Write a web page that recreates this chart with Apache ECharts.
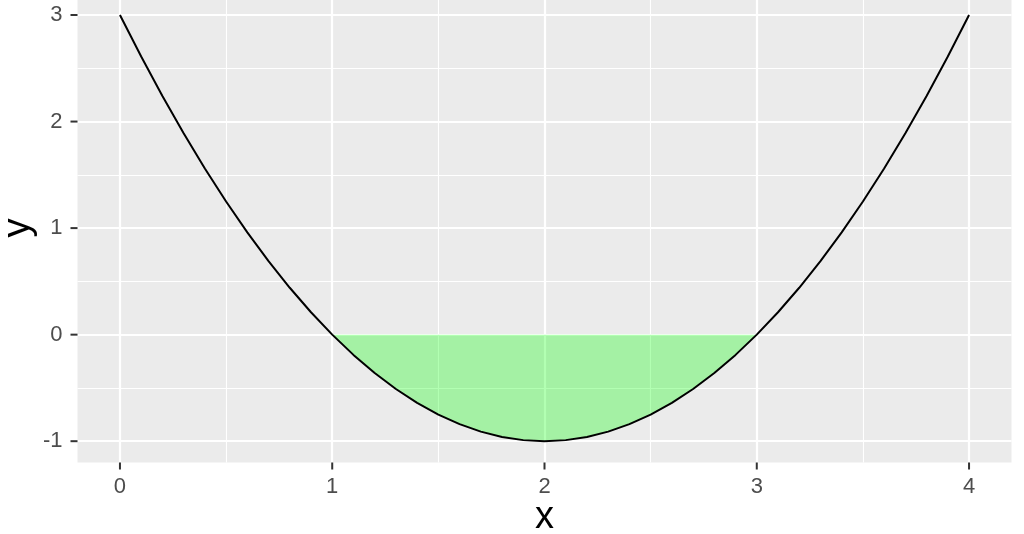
<!DOCTYPE html>
<html>
<head>
<meta charset="utf-8">
<script src="https://cdn.jsdelivr.net/npm/echarts@6/dist/echarts.min.js"></script>
<style>
html, body { margin: 0; padding: 0; background: #ffffff; }
#chart { width: 1024px; height: 534px; }
</style>
</head>
<body>
<div id="chart"></div>
<script>
// ---- data ----
const curveX = [0.0,0.1,0.2,0.3,0.4,0.5,0.6,0.7,0.8,0.9,1.0,1.1,1.2,1.3,1.4,1.5,1.6,1.7,1.8,1.9,2.0,
                2.1,2.2,2.3,2.4,2.5,2.6,2.7,2.8,2.9,3.0,3.1,3.2,3.3,3.4,3.5,3.6,3.7,3.8,3.9,4.0];
const curveY = [3.00,2.61,2.24,1.89,1.56,1.25,0.96,0.69,0.44,0.21,0.00,-0.19,-0.36,-0.51,-0.64,-0.75,-0.84,-0.91,-0.96,-0.99,-1.00,
                -0.99,-0.96,-0.91,-0.84,-0.75,-0.64,-0.51,-0.36,-0.19,0.00,0.21,0.44,0.69,0.96,1.25,1.56,1.89,2.24,2.61,3.00];
const shadeFrom = 1.0;
const shadeTo = 3.0;
const xTicks = [0, 1, 2, 3, 4];
const yTicks = [-1, 0, 1, 2, 3];
const xMinor = [0.5, 1.5, 2.5, 3.5];
const yMinor = [-0.5, 0.5, 1.5, 2.5];
const xRange = [-0.2, 4.2];
const yRange = [-1.2, 3.2];
const xTitle = 'x';
const yTitle = 'y';

// ---- build ----
const curveData = curveX.map((x, i) => [x, curveY[i]]);
const shadeData = curveData.filter(p => p[0] >= shadeFrom - 1e-9 && p[0] <= shadeTo + 1e-9);

const majorStyle = { color: '#ffffff', width: 2.2, type: 'solid', opacity: 1 };
const minorStyle = { color: '#ffffff', width: 1.1, type: 'solid', opacity: 1 };
const gridLines = []
  .concat(xMinor.map(v => ({ xAxis: v, lineStyle: minorStyle })))
  .concat(yMinor.map(v => ({ yAxis: v, lineStyle: minorStyle })))
  .concat(xTicks.map(v => ({ xAxis: v, lineStyle: majorStyle })))
  .concat(yTicks.map(v => ({ yAxis: v, lineStyle: majorStyle })));

// panel geometry (pixels)
const P = { left: 77.5, width: 934, top: -6.3, height: 468.8 };
const xSpan = xRange[1] - xRange[0], ySpan = yRange[1] - yRange[0];
const xPx = P.width / xSpan, yPx = P.height / ySpan;
const tMinX = xTicks[0], tMaxX = xTicks[xTicks.length - 1];
const tMinY = yTicks[0], tMaxY = yTicks[yTicks.length - 1];
const G2 = {
  left: P.left + (tMinX - xRange[0]) * xPx,
  width: (tMaxX - tMinX) * xPx,
  top: P.top + (yRange[1] - tMaxY) * yPx,
  height: (tMaxY - tMinY) * yPx
};
const xOffset = (tMinY - yRange[0]) * yPx;
const yOffset = (tMinX - xRange[0]) * xPx;
const TICK_LEN = 7;

const font = "'Liberation Sans', Arial, Helvetica, sans-serif";
const chart = echarts.init(document.getElementById('chart'), null, { renderer: 'canvas' });
chart.setOption({
  animation: false,
  backgroundColor: '#ffffff',
  grid: [
    { left: P.left, width: P.width, top: P.top, height: P.height,
      containLabel: false, outerBoundsMode: 'none',
      show: true, backgroundColor: '#EBEBEB', borderWidth: 0 },
    { left: G2.left, width: G2.width, top: G2.top, height: G2.height,
      containLabel: false, outerBoundsMode: 'none', show: false }
  ],
  xAxis: [
    { gridIndex: 0, type: 'value', min: xRange[0], max: xRange[1],
      axisLine: { show: false }, splitLine: { show: false }, axisTick: { show: false }, axisLabel: { show: false } },
    { gridIndex: 1, type: 'value', min: tMinX, max: tMaxX, interval: 1, position: 'bottom', offset: xOffset,
      axisLine: { show: false }, splitLine: { show: false }, axisTick: { show: false },
      axisLabel: { show: true, fontSize: 22, color: '#4D4D4D', fontFamily: font, margin: 13 },
      name: xTitle, nameLocation: 'middle', nameGap: 36, nameMoveOverlap: false,
      nameTextStyle: { fontSize: 38, color: '#000000', fontFamily: font } }
  ],
  yAxis: [
    { gridIndex: 0, type: 'value', min: yRange[0], max: yRange[1],
      axisLine: { show: false }, splitLine: { show: false }, axisTick: { show: false }, axisLabel: { show: false } },
    { gridIndex: 1, type: 'value', min: tMinY, max: tMaxY, interval: 1, position: 'left', offset: yOffset,
      axisLine: { show: false }, splitLine: { show: false }, axisTick: { show: false },
      axisLabel: { show: true, fontSize: 22, color: '#4D4D4D', fontFamily: font, margin: 15 },
      name: yTitle, nameLocation: 'middle', nameGap: 40, nameRotate: 90, nameMoveOverlap: false,
      nameTextStyle: { fontSize: 38, color: '#000000', fontFamily: font } }
  ],
  series: [
    {
      type: 'line', xAxisIndex: 0, yAxisIndex: 0, data: [], z: 1, silent: true,
      markLine: { silent: true, z: 1, symbol: ['none', 'none'], label: { show: false },
        emphasis: { disabled: true }, data: gridLines }
    },
    {
      type: 'line', xAxisIndex: 0, yAxisIndex: 0, data: shadeData, z: 2, showSymbol: false, symbol: 'none', silent: true,
      lineStyle: { width: 0, opacity: 0 },
      areaStyle: { color: 'rgba(0,255,0,0.3)', origin: 'auto', opacity: 1 }
    },
    {
      type: 'line', xAxisIndex: 0, yAxisIndex: 0, data: curveData, z: 3, showSymbol: false, symbol: 'none', silent: true,
      lineStyle: { color: '#000000', width: 2 }
    },
    {
      // x-axis tick marks, placed through the panel's scales
      type: 'custom', xAxisIndex: 0, yAxisIndex: 0, clip: false, silent: true, z: 4,
      data: xTicks.map(v => [v, yRange[0]]),
      renderItem: function (params, api) {
        const p = api.coord([api.value(0), api.value(1)]);
        return { type: 'line', shape: { x1: p[0], y1: p[1], x2: p[0], y2: p[1] + TICK_LEN },
                 style: { stroke: '#333333', lineWidth: 2 } };
      }
    },
    {
      // y-axis tick marks
      type: 'custom', xAxisIndex: 0, yAxisIndex: 0, clip: false, silent: true, z: 4,
      data: yTicks.map(v => [xRange[0], v]),
      renderItem: function (params, api) {
        const p = api.coord([api.value(0), api.value(1)]);
        return { type: 'line', shape: { x1: p[0] - TICK_LEN, y1: p[1], x2: p[0], y2: p[1] },
                 style: { stroke: '#333333', lineWidth: 2 } };
      }
    }
  ]
});
</script>
</body>
</html>
